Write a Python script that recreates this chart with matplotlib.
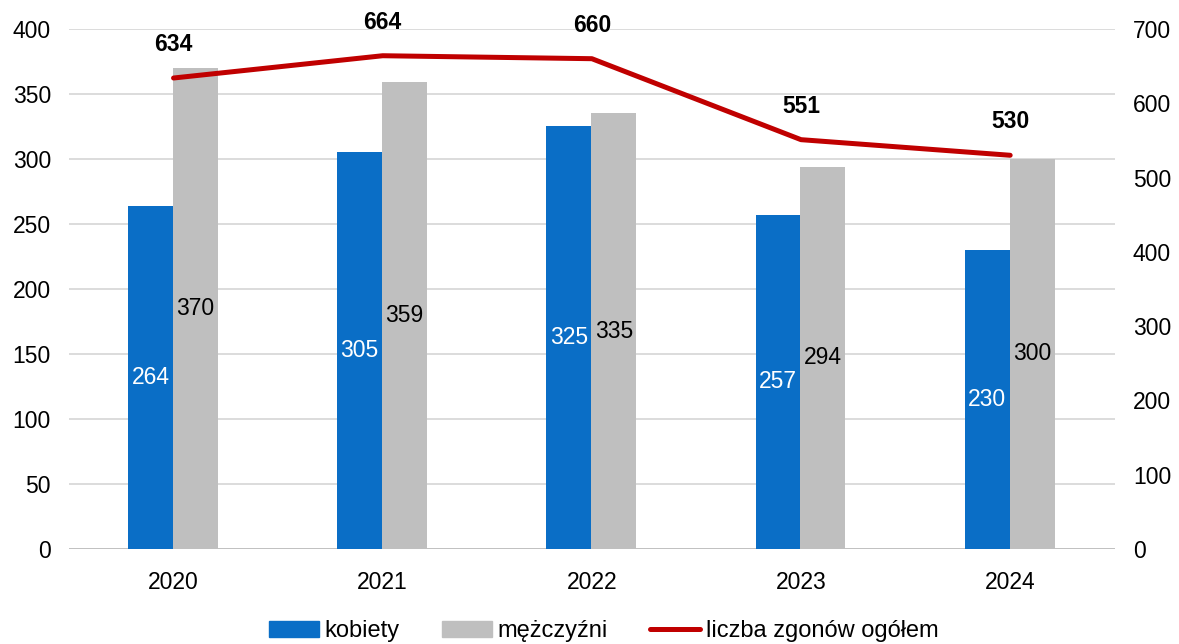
import matplotlib
matplotlib.use("Agg")
import matplotlib.pyplot as plt
import numpy as np
from matplotlib.lines import Line2D
from matplotlib.patches import Patch

years = ["2020", "2021", "2022", "2023", "2024"]
kobiety = [264, 305, 325, 257, 230]
mezczyzni = [370, 359, 335, 294, 300]
ogolem = [634, 664, 660, 551, 530]

plt.rcParams['font.family'] = ['Liberation Sans', 'DejaVu Sans']

blue = "#0A6EC6"
grey = "#BFBFBF"
red = "#C00000"
FS = 16.5

fig = plt.figure(figsize=(11.79, 6.44), dpi=100)
ax = fig.add_axes([0.0585, 0.1475, 0.887, 0.8075])
ax2 = ax.twinx()

x = np.arange(len(years))
w = 0.215
ax.bar(x - 0.11, kobiety, w, color=blue, zorder=2)
ax.bar(x + 0.105, mezczyzni, w, color=grey, zorder=2)

for xi, v in zip(x, kobiety):
    ax.text(xi - 0.11, v / 2, str(v), ha='center', va='center', color='white', fontsize=FS, zorder=3)
for xi, v in zip(x, mezczyzni):
    ax.text(xi + 0.105, v / 2, str(v), ha='center', va='center', color='black', fontsize=FS, zorder=3)

ax2.plot(x, ogolem, color=red, lw=3.6, solid_capstyle='round', zorder=4)
for xi, v in zip(x, ogolem):
    ax2.annotate(str(v), (xi, v), xytext=(0, 24), textcoords='offset points',
                 ha='center', va='center', fontsize=FS, fontweight='bold')

ax.set_xlim(-0.5, 4.5)
ax.set_ylim(0, 400)
ax2.set_ylim(0, 700)
ax.set_yticks(range(0, 401, 50))
ax2.set_yticks(range(0, 701, 100))
ax.set_xticks(x)
ax.set_xticklabels(years)
ax.yaxis.grid(True, color='#D9D9D9', lw=1.3, zorder=0)
ax.set_axisbelow(True)

for a in (ax, ax2):
    for s in ['top', 'left', 'right', 'bottom']:
        a.spines[s].set_visible(False)
    a.tick_params(length=0, labelsize=FS, colors='black')
ax.axhline(0, color='#BFBFBF', lw=1.3, zorder=1)
ax.tick_params(axis='y', pad=13)
ax2.tick_params(axis='y', pad=13)
ax.tick_params(axis='x', pad=16)

handles = [Patch(color=blue), Patch(color=grey), Line2D([0], [0], color=red, lw=3.6, solid_capstyle='round')]
labels = ["kobiety", "mężczyźni", "liczba zgonów ogółem"]
fig.legend(handles, labels, loc='lower center', bbox_to_anchor=(0.512, -0.03), ncol=3,
           frameon=False, handlelength=2.1, handleheight=0.7, handletextpad=0.25,
           columnspacing=1.8, prop={'family': ['Liberation Sans', 'DejaVu Sans'], 'size': 17})

fig.savefig("out.png", dpi=100)
